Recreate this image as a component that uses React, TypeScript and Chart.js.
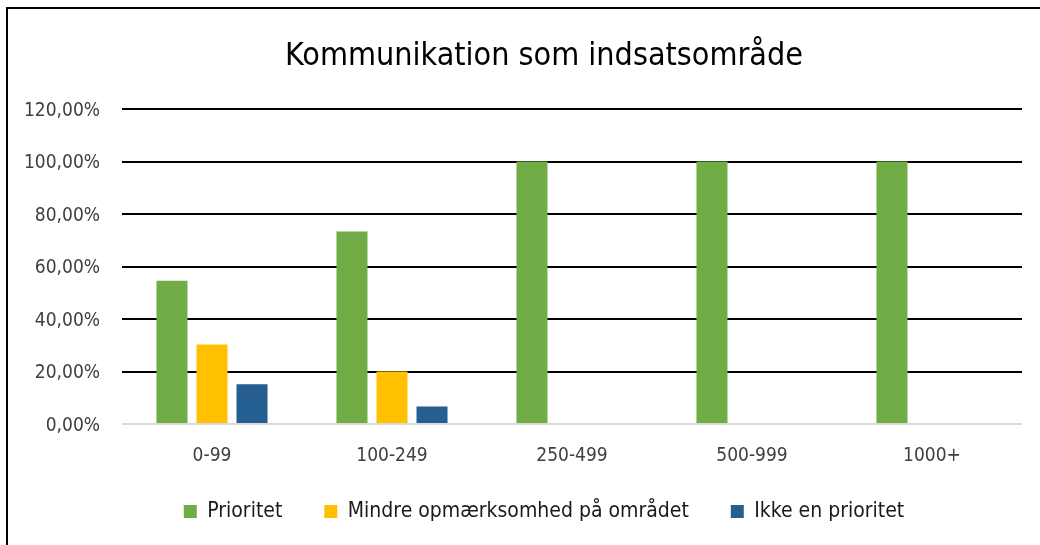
import React, { useEffect, useRef } from "react";
import { Chart, registerables } from "chart.js";

Chart.register(...registerables);

const title = "Kommunikation som indsatsområde";
const categories = ["0-99", "100-249", "250-499", "500-999", "1000+"];
const seriesNames = ["Prioritet", "Mindre opmærksomhed på området", "Ikke en prioritet"];
const prioritet = [54.55, 73.33, 100, 100, 100];
const mindre = [30.3, 20.0, 0, 0, 0];
const ikke = [15.15, 6.67, 0, 0, 0];
const seriesColors = ["#70AD47", "#FFC000", "#255E91"];
const yMin = 0;
const yMax = 120;
const yStep = 20;

const FONT = "'Liberation Sans Narrow', 'Arial Narrow', 'DejaVu Sans Condensed', sans-serif";
const TICK_SIZE = 19;

const fmt = (v: number) => v.toFixed(2).replace(".", ",") + "%";

const legendShift = {
  id: "legendShift",
  afterLayout(chart: any) {
    const lg = chart.legend;
    if (lg) {
      lg.top -= 12;
      lg.bottom -= 12;
    }
  },
};

export default function App() {
  const ref = useRef<HTMLCanvasElement | null>(null);

  useEffect(() => {
    if (!ref.current) return;
    const ctx = ref.current.getContext("2d")!;
    ctx.font = `${TICK_SIZE}px ${FONT}`;
    let widest = 0;
    for (let v = yMin; v <= yMax; v += yStep) {
      widest = Math.max(widest, ctx.measureText(fmt(v)).width);
    }
    const chart = new Chart(ref.current, {
      type: "bar",
      data: {
        labels: categories,
        datasets: [prioritet, mindre, ikke].map((d, i) => ({
          label: seriesNames[i],
          data: d,
          backgroundColor: seriesColors[i],
          borderWidth: 0,
          categoryPercentage: 0.667,
          barPercentage: 0.775,
        })),
      },
      plugins: [legendShift],
      options: {
        responsive: false,
        animation: false,
        devicePixelRatio: 1,
        layout: { padding: { left: 66, right: 18, top: 28, bottom: 1 } },
        plugins: {
          title: {
            display: true,
            text: title,
            color: "#000",
            font: { family: FONT, size: 32, weight: "normal" },
            padding: { top: 9, bottom: 33.6 },
          },
          legend: {
            display: true,
            position: "bottom",
            labels: {
              color: "#1a1a1a",
              font: { family: FONT, size: 21 },
              boxWidth: 13,
              boxHeight: 13,
              padding: 42,
            },
          },
          tooltip: { enabled: false },
        },
        scales: {
          x: {
            grid: { display: false, drawTicks: false },
            border: { display: false },
            ticks: {
              color: "#404040",
              font: { family: FONT, size: TICK_SIZE },
              padding: 21,
            },
            afterFit: (s: any) => {
              s.height = 47;
            },
          },
          y: {
            min: yMin,
            max: yMax,
            border: { display: false },
            grid: {
              drawTicks: false,
              lineWidth: 2,
              color: (c: any) => (c.tick && c.tick.value === 0 ? "#d9d9d9" : "#000"),
            },
            ticks: {
              stepSize: yStep,
              color: "#404040",
              font: { family: FONT, size: TICK_SIZE },
              mirror: true,
              crossAlign: "far",
              labelOffset: 2,
              padding: -22 - widest,
              callback: (v: any) => fmt(Number(v)),
            },
            afterFit: (s: any) => {
              s.width = 56;
            },
          },
        },
      },
    });
    return () => chart.destroy();
  }, []);

  return (
    <div style={{ position: "absolute", left: 0, top: 0, width: 1040, height: 545, background: "#fff", overflow: "hidden" }}>
      <canvas ref={ref} width={1040} height={545} style={{ position: "absolute", left: 0, top: 0, width: 1040, height: 545 }} />
      <div
        style={{
          position: "absolute",
          left: 6,
          top: 7,
          width: 1034,
          height: 538,
          boxSizing: "border-box",
          borderTop: "2px solid #000",
          borderLeft: "2px solid #000",
          pointerEvents: "none",
        }}
      />
    </div>
  );
}
